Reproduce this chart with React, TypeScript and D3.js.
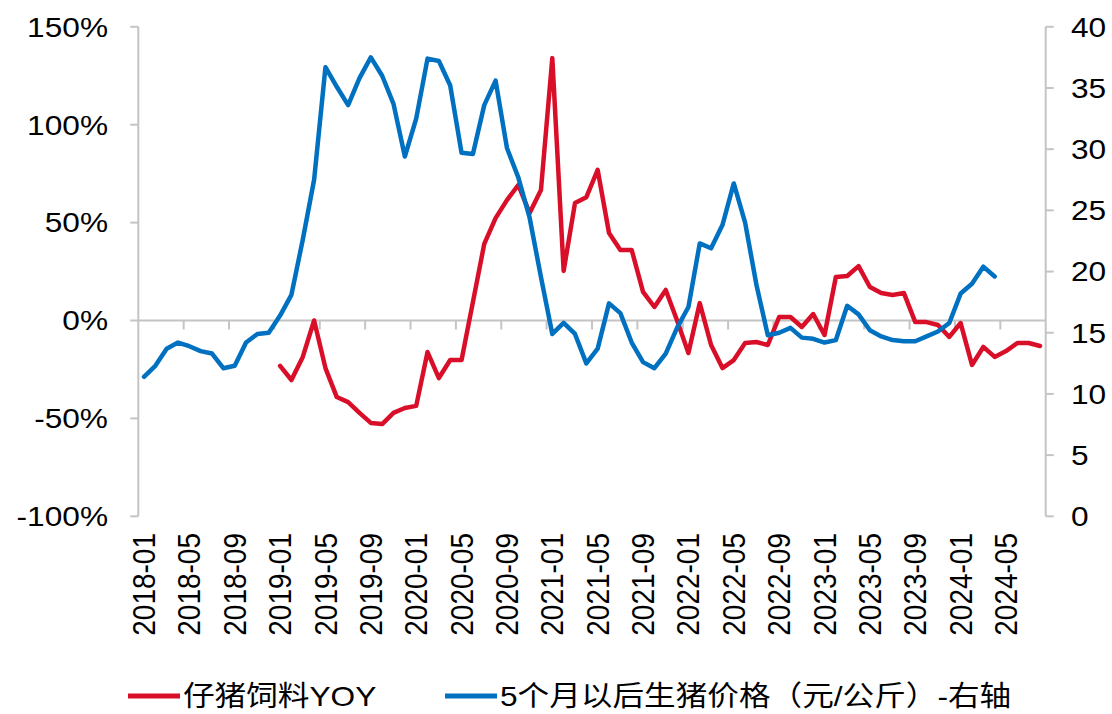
import React, { useEffect, useRef } from 'react';
import * as d3 from 'd3';

// 2018-01 .. 2024-08
const months: string[] = d3
  .timeMonths(new Date(2018, 0, 1), new Date(2024, 8, 1))
  .map(d3.timeFormat('%Y-%m'));

// 仔猪饲料YOY (%), starts 2019-01
const pigletFeedYoy: (number | null)[] = [
  null, null, null, null, null, null, null, null, null, null, null, null,
  -23.2, -30.4, -18.6, 0, -24.3, -39.1, -41.7, -47.2, -52.3, -52.9, -47.2, -44.7,
  -43.6, -16.1, -29.4, -20.2, -20.2, 9.4, 39.1, 52.3, 61.5, 69.2, 54.9, 66.7,
  134, 25.3, 60, 63, 76.9, 44.7, 36, 36, 14.6, 6.9, 15.6, 0,
  -16.6, 8.9, -12.5, -24.3, -20.2, -11.5, -11, -12.5, 1.8, 1.8, -3.3, 3.3,
  -7.4, 22.2, 22.7, 27.8, 17.1, 14, 13, 14, -0.8, -0.8, -2.3, -8.4,
  -1.3, -22.7, -13.5, -18.6, -15.6, -11.5, -11.5, -13
];

// 5个月以后生猪价格 (元/公斤), ends 2024-04
const hogPrice5m: (number | null)[] = [
  11.4, 12.3, 13.7, 14.2, 13.9, 13.5, 13.3, 12.1, 12.3, 14.2, 14.9, 15.0,
  16.4, 18.1, 22.6, 27.5, 36.7, 35.1, 33.6, 35.8, 37.5, 36.0, 33.7, 29.4,
  32.5, 37.4, 37.2, 35.2, 29.7, 29.6, 33.6, 35.6, 30.1, 27.7, 24.4, 19.55,
  14.9, 15.8, 14.9, 12.5, 13.7, 17.4, 16.6, 14.2, 12.6, 12.1, 13.3, 15.4,
  17.1, 22.3, 21.9, 23.8, 27.2, 24.0, 18.9, 14.8, 15.0, 15.4, 14.6, 14.5,
  14.2, 14.4, 17.2, 16.5, 15.2, 14.7, 14.4, 14.3, 14.3, 14.7, 15.1, 15.8,
  18.2, 19.0, 20.4, 19.6, null, null, null, null
];

const leftTicks = [-100, -50, 0, 50, 100, 150];
const rightTicks = [0, 5, 10, 15, 20, 25, 30, 35, 40];
const seriesNames = ['仔猪饲料YOY', '5个月以后生猪价格（元/公斤）-右轴'];

const RED = '#d90f29';
const BLUE = '#0070c0';
const GRID = '#c4c4c4';
const FONT = '"Liberation Sans", Arial, "Noto Sans CJK SC", sans-serif';
const SX = 1.13; // horizontal stretch of the text in the picture

export default function App() {
  const ref = useRef<SVGSVGElement | null>(null);

  useEffect(() => {
    const width = 1112;
    const height = 714;
    const m = { left: 138.3, right: 1045.7, top: 26.8, bottom: 516.3 };

    const svg = d3.select(ref.current);
    svg.selectAll('*').remove();
    svg.attr('width', width).attr('height', height);

    const x = d3.scaleBand<string>().domain(months).range([m.left, m.right]);
    const cx = (i: number) => (x(months[i]) as number) + x.bandwidth() / 2;
    const yL = d3.scaleLinear().domain([-100, 150]).range([m.bottom, m.top]);
    const yR = d3.scaleLinear().domain([0, 40]).range([m.bottom, m.top]);

    const text = (g: any, tx: number, ty: number, s: string, anchor: string, extra = '') =>
      g.append('text')
        .attr('transform', `translate(${tx},${ty}) scale(${SX},1)${extra}`)
        .attr('text-anchor', anchor)
        .attr('dy', '0.35em')
        .style('font-family', FONT)
        .style('font-size', '28px')
        .style('fill', '#000')
        .text(s);

    // left axis
    svg.append('line')
      .attr('x1', m.left).attr('x2', m.left)
      .attr('y1', yL(150)).attr('y2', yL(-100))
      .attr('stroke', GRID).attr('stroke-width', 2);
    leftTicks.forEach((t) => {
      svg.append('line')
        .attr('x1', m.left - 8).attr('x2', m.left)
        .attr('y1', yL(t)).attr('y2', yL(t))
        .attr('stroke', GRID).attr('stroke-width', 2);
      text(svg, 108, yL(t), t + '%', 'end');
    });

    // right axis
    svg.append('line')
      .attr('x1', m.right).attr('x2', m.right)
      .attr('y1', yR(40)).attr('y2', yR(0))
      .attr('stroke', GRID).attr('stroke-width', 2);
    rightTicks.forEach((t) => {
      svg.append('line')
        .attr('x1', m.right).attr('x2', m.right + 8)
        .attr('y1', yR(t)).attr('y2', yR(t))
        .attr('stroke', GRID).attr('stroke-width', 2);
      text(svg, 1071, yR(t), String(t), 'start');
    });

    // category axis at 0%
    svg.append('line')
      .attr('x1', m.left).attr('x2', m.right)
      .attr('y1', yL(0)).attr('y2', yL(0))
      .attr('stroke', GRID).attr('stroke-width', 2);
    months.forEach((mo, i) => {
      if (i % 4 !== 0) return;
      if (i > 0) {
        const bx = x(mo) as number;
        svg.append('line')
          .attr('x1', bx).attr('x2', bx)
          .attr('y1', yL(0)).attr('y2', yL(0) + 9)
          .attr('stroke', GRID).attr('stroke-width', 2);
      }
      text(svg, cx(i), 533, mo, 'end', ' rotate(-90)');
    });

    const line = (y: d3.ScaleLinear<number, number>) =>
      d3.line<number | null>()
        .defined((d) => d !== null)
        .x((d, i) => cx(i))
        .y((d) => y(d as number));

    svg.append('path')
      .datum(pigletFeedYoy)
      .attr('d', line(yL))
      .attr('fill', 'none').attr('stroke', RED).attr('stroke-width', 4.5)
      .attr('stroke-linejoin', 'round').attr('stroke-linecap', 'round');

    svg.append('path')
      .datum(hogPrice5m)
      .attr('d', line(yR))
      .attr('fill', 'none').attr('stroke', BLUE).attr('stroke-width', 4.5)
      .attr('stroke-linejoin', 'round').attr('stroke-linecap', 'round');

    // legend
    const legend = [
      { x: 128, color: RED, name: seriesNames[0] },
      { x: 445, color: BLUE, name: seriesNames[1] }
    ];
    legend.forEach((l) => {
      svg.append('line')
        .attr('x1', l.x).attr('x2', l.x + 52)
        .attr('y1', 696).attr('y2', 696)
        .attr('stroke', l.color).attr('stroke-width', 5);
      text(svg, l.x + 55, 696, l.name, 'start');
    });
  }, []);

  return (
    <div style={{ position: 'absolute', left: 0, top: 0 }}>
      <svg ref={ref} style={{ display: 'block' }}></svg>
    </div>
  );
}
